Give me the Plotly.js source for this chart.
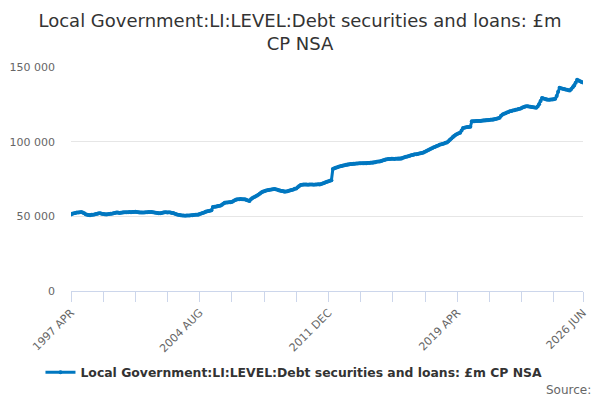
<!DOCTYPE html>
<html>
<head>
<meta charset="utf-8">
<script src="https://cdn.plot.ly/plotly-3.0.1.min.js"></script>
<style>html,body{margin:0;padding:0;background:#fff}#chart{width:600px;height:400px}</style>
</head>
<body>
<div id="chart"></div>
<script>
// Monthly series, 1997 APR .. 2026 JUN (values in £m)
var startYear = 1997;
var startMonth = 3; // 0-based: APR
var monthNames = ["JAN","FEB","MAR","APR","MAY","JUN","JUL","AUG","SEP","OCT","NOV","DEC"];
var seriesName = "Local Government:LI:LEVEL:Debt securities and loans: £m CP NSA";
var valuesThousands = [
  51.3, 51.8, 52.1, 52.3, 52.5, 52.6, 52.7, 52.9, 52.5, 52.0, 51.4, 51.0,
  50.9, 50.8, 51.0, 51.1, 51.3, 51.5, 51.8, 52.0, 52.0, 51.8, 51.6, 51.4,
  51.3, 51.4, 51.6, 51.8, 51.8, 52.0, 52.3, 52.5, 52.5, 52.3, 52.4, 52.6,
  52.7, 52.7, 52.7, 52.8, 52.9, 52.8, 52.9, 52.9, 53.0, 52.9, 52.7, 52.6,
  52.5, 52.5, 52.6, 52.7, 52.8, 52.9, 52.9, 52.9, 52.8, 52.6, 52.4, 52.2,
  52.0, 52.0, 52.2, 52.5, 52.7, 52.7, 52.6, 52.7, 52.5, 52.3, 52.2, 51.8,
  51.4, 51.1, 50.9, 50.8, 50.6, 50.5, 50.4, 50.5, 50.6, 50.6, 50.7, 50.8,
  50.9, 51.0, 51.1, 51.1, 51.5, 51.9, 52.2, 52.6, 53.0, 53.4, 53.6, 53.8,
  54.0, 56.2, 56.4, 56.5, 56.7, 56.9, 57.1, 57.6, 58.4, 59.1, 59.2, 59.3,
  59.4, 59.5, 59.6, 60.2, 60.8, 61.2, 61.4, 61.5, 61.6, 61.5, 61.4, 61.4,
  61.0, 60.6, 60.3, 61.5, 62.3, 62.8, 63.3, 63.8, 64.5, 65.2, 65.9, 66.5,
  66.8, 67.1, 67.4, 67.6, 67.8, 68.0, 68.2, 68.3, 68.1, 67.8, 67.5, 67.2,
  67.0, 66.8, 66.5, 66.6, 66.8, 67.1, 67.4, 67.7, 68.0, 68.4, 68.7, 69.5,
  70.3, 71.0, 71.2, 71.3, 71.4, 71.3, 71.2, 71.3, 71.4, 71.3, 71.2, 71.3,
  71.4, 71.5, 71.4, 71.6, 72.0, 72.4, 72.8, 73.2, 73.5, 73.8, 74.1, 81.7,
  82.2, 82.6, 82.9, 83.2, 83.5, 83.7, 84.0, 84.2, 84.5, 84.7, 84.9, 85.0,
  85.1, 85.2, 85.2, 85.3, 85.4, 85.5, 85.5, 85.5, 85.6, 85.6, 85.6, 85.7,
  85.7, 85.8, 85.9, 86.1, 86.3, 86.5, 86.7, 86.8, 87.1, 87.4, 87.7, 88.1,
  88.3, 88.4, 88.4, 88.5, 88.5, 88.4, 88.5, 88.5, 88.6, 88.6, 88.8, 89.2,
  89.6, 89.9, 90.1, 90.4, 90.7, 91.0, 91.3, 91.5, 91.6, 91.8, 92.0, 92.2,
  92.4, 92.8, 93.3, 93.8, 94.3, 94.8, 95.3, 95.7, 96.2, 96.6, 97.1, 97.5,
  97.9, 98.2, 98.5, 98.8, 99.2, 99.5, 100.3, 101.2, 102.2, 103.1, 103.9, 104.6,
  105.2, 105.6, 106.0, 107.5, 109.1, 109.4, 109.6, 109.8, 109.9, 110.0, 113.6, 113.7,
  113.7, 113.8, 113.8, 113.9, 113.9, 114.0, 114.1, 114.2, 114.3, 114.4, 114.5, 114.6,
  114.7, 114.9, 115.1, 115.4, 115.7, 116.0, 117.4, 118.2, 118.7, 119.1, 119.5, 119.9,
  120.3, 120.6, 120.9, 121.1, 121.3, 121.5, 121.8, 122.0, 122.5, 123.0, 123.4, 123.8,
  123.7, 123.5, 123.3, 123.2, 123.0, 122.8, 122.7, 123.5, 125.0, 127.2, 129.2, 128.9,
  128.6, 128.3, 128.0, 128.1, 128.2, 128.3, 128.4, 128.7, 130.5, 133.5, 136.1, 135.8,
  135.5, 135.2, 134.9, 134.7, 134.5, 134.3, 135.2, 136.4, 137.6, 139.5, 141.4, 141.0,
  140.4, 140.0, 139.6
];
var yTickVals = [0, 50000, 100000, 150000];
var yTickText = ["0", "50 000", "100 000", "150 000"];

var labels = [];
var xIdx = [];
var values = [];
for (var i = 0; i < valuesThousands.length; i++) {
  var mAbs = startMonth + i;
  labels.push((startYear + Math.floor(mAbs / 12)) + " " + monthNames[mAbs % 12]);
  xIdx.push(i);
  values.push(valuesThousands[i] * 1000);
}
var last = valuesThousands.length - 1;
var xTickVals = [];
var xTickText = [];
for (var t = 0; t < last - 10; t += 22) {
  xTickVals.push(t);
  xTickText.push(t % 88 === 0 ? labels[t] : "");
}
xTickVals.push(last);
xTickText.push(labels[last]);

var trace = {
  x: xIdx,
  y: values,
  text: labels,
  type: "scatter",
  mode: "lines+markers",
  name: seriesName,
  line: {color: "#0077c0", width: 3},
  marker: {color: "#0077c0", size: 4},
  hoverinfo: "text+y"
};

var layout = {
  width: 600,
  height: 400,
  paper_bgcolor: "#ffffff",
  plot_bgcolor: "#ffffff",
  font: {family: "DejaVu Sans, sans-serif", color: "#666666"},
  margin: {l: 71, r: 17, t: 67, b: 109, pad: 0, autoexpand: false},
  title: {
    text: "Local Government:LI:LEVEL:Debt securities and loans: £m<br>CP NSA",
    font: {family: "DejaVu Sans, sans-serif", size: 18, color: "#333333"},
    x: 0.5, xanchor: "center",
    yref: "container", y: 0.933, yanchor: "middle"
  },
  xaxis: {
    range: [0, last],
    automargin: false,
    tickmode: "array",
    tickvals: xTickVals,
    ticktext: xTickText,
    tickangle: -45,
    ticks: "outside",
    ticklen: 10,
    tickcolor: "#ccd6eb",
    showline: true,
    linecolor: "#ccd6eb",
    linewidth: 1,
    showgrid: false,
    zeroline: false,
    tickfont: {size: 11, color: "#666666"}
  },
  yaxis: {
    range: [0, 150000],
    automargin: false,
    tickmode: "array",
    tickvals: yTickVals,
    ticktext: yTickText,
    showgrid: true,
    gridcolor: "#e6e6e6",
    zeroline: false,
    showline: false,
    ticks: "",
    ticklabelstandoff: 15,
    tickfont: {size: 11, color: "#666666"}
  },
  showlegend: true,
  legend: {
    orientation: "h",
    x: 0.4355, xanchor: "center",
    y: -0.365, yanchor: "middle",
    itemwidth: 30,
    font: {family: "DejaVu Sans, sans-serif", size: 12.4, color: "#333333", weight: "bold"}
  },
  annotations: [{
    text: "Source:",
    xref: "paper", yref: "paper",
    x: 1.02, xanchor: "right",
    y: -0.44, yanchor: "middle",
    showarrow: false,
    font: {family: "DejaVu Sans, sans-serif", size: 12, color: "#666666"}
  }]
};

Plotly.newPlot("chart", [trace], layout, {displayModeBar: false, staticPlot: true});
</script>
</body>
</html>
